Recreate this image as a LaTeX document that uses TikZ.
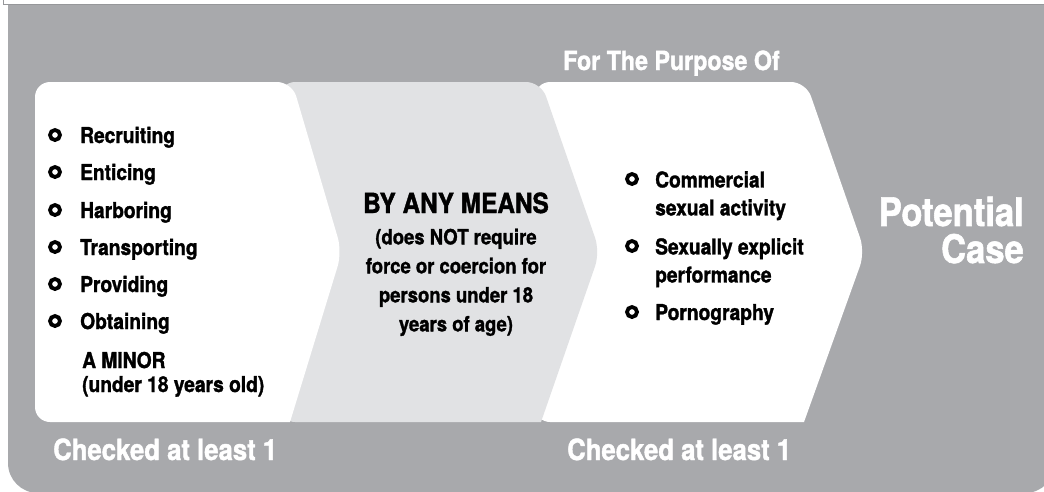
\documentclass[tikz,border=0pt]{standalone}
\usepackage{fontspec}
\setmainfont{TeX Gyre Heros}[FakeStretch=0.88, BoldFeatures={FakeBold=1.4}]
\definecolor{panelgray}{RGB}{168,169,172}
\definecolor{meansgray}{RGB}{225,226,228}
\definecolor{edgegray}{RGB}{150,151,154}

\begin{document}
\begin{tikzpicture}[x=1pt, y=-1pt,
  ring/.style={circle, draw=black, line width=3.8pt, minimum size=10pt, inner sep=0pt},
  item/.style={anchor=base west, inner sep=0pt, font=\fontsize{21.8}{28}\selectfont\bfseries},
  twoline/.style={anchor=north west, inner sep=0pt, align=left, font=\fontsize{21.8}{28}\selectfont\bfseries},
  whitehead/.style={anchor=base west, inner sep=0pt, text=white, font=\fontsize{29.2}{32}\selectfont\bfseries}]
\useasboundingbox (0,0) rectangle (1044,491);
\draw[edgegray, line width=1pt] (3,0) -- (3,4.5) -- (1044,4.5);
\fill[panelgray] (8,5) -- (1055,5) -- (1055,463) .. controls (1055,479.6) and (1041.6,493) .. (1025,493) -- (38,493) .. controls (21.4,493) and (8,479.6) .. (8,463) -- cycle;
\fill[white, rounded corners=15pt] (535,82) -- (806,82) -- (865,252) [sharp corners] -- (804,422) [rounded corners=15pt] -- (535,422) -- cycle;
\fill[meansgray, rounded corners=15pt] (280,82) -- (541,82) -- (600,252) [sharp corners] -- (541,422) [rounded corners=15pt] -- (280,422) -- cycle;
\fill[white, rounded corners=15pt] (35,82) -- (292,82) -- (342,252) [sharp corners] -- (290,422) [rounded corners=15pt] -- (35,422) -- cycle;

\node (purpose) at (563,70) [whitehead, font=\fontsize{26.4}{30}\selectfont\bfseries] {For The Purpose Of};

\node (r1) at (55,135) [ring] {};
\node (r2) at (55,172) [ring] {};
\node (r3) at (55,210) [ring] {};
\node (r4) at (55,247) [ring] {};
\node (r5) at (55,284) [ring] {};
\node (r6) at (55,321) [ring] {};
\node (recruit) at (80,143) [item] {Recruiting};
\node (entice) at (80,180) [item] {Enticing};
\node (harbor) at (80,218) [item] {Harboring};
\node (transport) at (80,255) [item] {Transporting};
\node (provide) at (80,292) [item] {Providing};
\node (obtain) at (80,329) [item] {Obtaining};
\node (minor) at (82,368) [item] {A MINOR};
\node (under) at (82,392) [item] {(under 18 years old)};

\node (means) at (456,213) [anchor=base, inner sep=0pt, font=\fontsize{27.7}{30}\selectfont\bfseries] {BY ANY MEANS};
\node (force) at (456,228.5) [anchor=north, inner sep=0pt, align=center, font=\fontsize{21}{29}\selectfont\bfseries] {(does NOT require\\force or coercion for\\persons under 18\\years of age)};

\node (p1) at (632,179) [ring] {};
\node (p2) at (632,246) [ring] {};
\node (p3) at (632,312) [ring] {};
\node (commercial) at (655,171) [twoline] {Commercial\\sexual activity};
\node (explicit) at (655,238) [twoline] {Sexually explicit\\performance};
\node (porn) at (655,320) [item] {Pornography};

\node (case) at (1024,196.5) [anchor=north east, inner sep=0pt, align=right, text=white, font=\fontsize{39.3}{37}\selectfont\bfseries] {Potential\\Case};

\node (checkleft) at (53,460) [whitehead] {Checked at least 1};
\node (checkright) at (567,460) [whitehead] {Checked at least 1};
\end{tikzpicture}
\end{document}
